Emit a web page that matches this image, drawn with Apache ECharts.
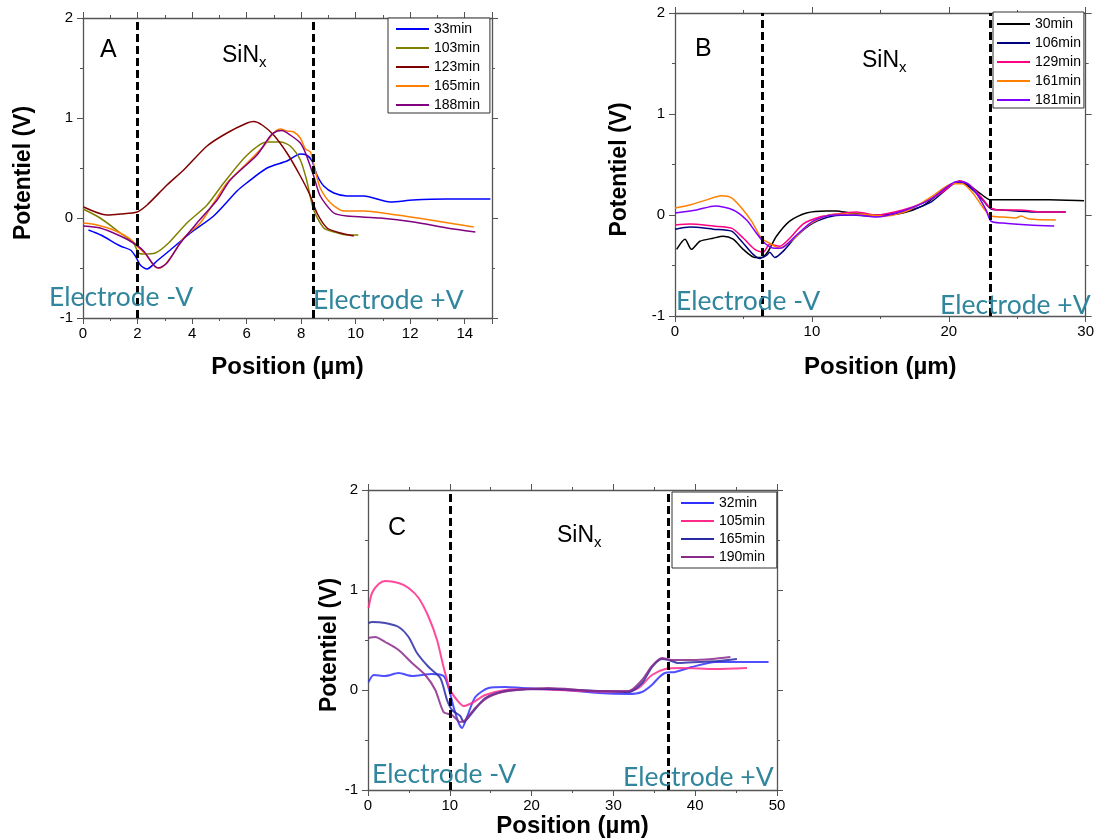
<!DOCTYPE html>
<html>
<head>
<meta charset="utf-8">
<script src="https://cdn.jsdelivr.net/npm/echarts@6/dist/echarts.min.js"></script>
<style>html,body{margin:0;padding:0;background:#fff}#c{width:1097px;height:840px}</style>
</head>
<body>
<div id="c"></div>
<script>
// ---------- DATA ----------
// Panel A
const namesA = ['33min', '103min', '123min', '165min', '188min'];
const a33 = [[0.2,-0.12],[0.65,-0.17],[1.37,-0.28],[1.74,-0.32],[1.92,-0.38],[2.1,-0.47],[2.35,-0.51],[2.71,-0.43],[3.2,-0.32],[3.94,-0.15],[4.79,0.02],[5.65,0.27],[6.0,0.35],[6.75,0.5],[7.48,0.57],[7.97,0.64],[8.2,0.63],[8.4,0.57],[8.58,0.43],[8.83,0.32],[9.2,0.25],[9.68,0.22],[10.3,0.22],[11.27,0.16],[12.1,0.18],[13.35,0.19],[14.94,0.19]];
const a103 = [[0,0.09],[0.63,0.0],[1.37,-0.15],[1.85,-0.25],[2.04,-0.35],[2.22,-0.36],[2.65,-0.35],[3.14,-0.25],[3.81,-0.05],[4.55,0.13],[5.16,0.35],[6.02,0.63],[6.75,0.76],[7.24,0.76],[7.6,0.72],[7.97,0.58],[8.2,0.38],[8.46,0.08],[8.83,-0.1],[9.2,-0.14],[9.68,-0.17],[10.1,-0.17]];
const a123 = [[0.02,0.11],[0.88,0.03],[1.37,0.04],[1.98,0.06],[2.35,0.13],[3.08,0.33],[3.69,0.48],[4.55,0.72],[5.28,0.85],[6.02,0.95],[6.26,0.965],[6.57,0.93],[6.99,0.83],[7.48,0.65],[7.97,0.42],[8.34,0.22],[8.58,0.05],[8.95,-0.1],[9.44,-0.15],[9.93,-0.18]];
const a165 = [[0.02,-0.05],[0.51,-0.07],[1.12,-0.12],[1.74,-0.21],[1.98,-0.28],[2.35,-0.38],[2.65,-0.49],[2.84,-0.5],[3.2,-0.4],[3.69,-0.2],[4.3,-0.05],[4.79,0.15],[5.28,0.35],[6.02,0.55],[6.63,0.72],[6.99,0.85],[7.24,0.89],[7.48,0.87],[7.73,0.86],[7.97,0.8],[8.16,0.69],[8.34,0.66],[8.52,0.47],[8.7,0.3],[9.08,0.15],[9.56,0.07],[10.3,0.07],[11.52,0.03],[12.74,-0.02],[14.33,-0.09]];
const a188 = [[0.02,-0.08],[0.63,-0.1],[1.37,-0.18],[1.85,-0.25],[2.22,-0.33],[2.59,-0.47],[2.77,-0.5],[3.08,-0.45],[3.57,-0.25],[4.18,-0.05],[4.92,0.18],[5.4,0.38],[6.38,0.63],[6.87,0.82],[7.12,0.87],[7.3,0.875],[7.6,0.83],[7.97,0.75],[8.16,0.65],[8.46,0.42],[8.7,0.22],[9.2,0.05],[9.68,0.02],[10.9,0.0],[12.13,-0.04],[13.35,-0.1],[14.39,-0.14]];
const electrodesA = [2, 8.45];

// Panel B
const namesB = ['30min', '106min', '129min', '161min', '181min'];
const b30 = [[0.12,-0.34],[0.73,-0.24],[1.2,-0.34],[1.82,-0.26],[2.79,-0.23],[3.52,-0.21],[4.25,-0.24],[4.98,-0.34],[5.83,-0.42],[6.32,-0.42],[6.8,-0.36],[7.41,-0.21],[8.38,-0.06],[9.6,0.02],[11.06,0.04],[11.8,0.04],[12.76,0.02],[14.7,0.0],[16.64,0.02],[18.1,0.09],[19.07,0.19],[20.04,0.29],[20.77,0.33],[21.5,0.29],[22.23,0.22],[22.84,0.16],[23.08,0.15],[25.15,0.15],[27.33,0.15],[29.88,0.14]];
const b106 = [[0,-0.14],[1.09,-0.12],[2.79,-0.14],[4.13,-0.16],[4.86,-0.26],[5.71,-0.39],[6.2,-0.43],[6.68,-0.4],[6.92,-0.37],[7.29,-0.42],[7.89,-0.36],[8.87,-0.21],[10.08,-0.08],[11.54,-0.01],[13.0,0.0],[14.2,-0.01],[16.64,0.03],[18.59,0.12],[19.8,0.25],[20.53,0.32],[21.0,0.32],[21.74,0.25],[22.47,0.15],[23.08,0.06],[23.93,0.05],[26.36,0.03],[28.55,0.03]];
const b129 = [[0,-0.1],[1.09,-0.09],[2.79,-0.11],[4.13,-0.13],[5.0,-0.23],[5.83,-0.34],[6.44,-0.37],[6.92,-0.29],[7.65,-0.31],[8.38,-0.23],[9.35,-0.09],[10.57,-0.02],[11.8,0.01],[13.24,0.03],[14.7,0.0],[16.64,0.05],[18.1,0.12],[19.56,0.23],[20.77,0.34],[21.5,0.3],[22.35,0.18],[22.96,0.08],[23.56,0.05],[25.15,0.05],[26.85,0.03],[28.55,0.03]];
const b161 = [[0,0.07],[1.09,0.1],[2.31,0.15],[3.4,0.19],[4.13,0.17],[4.86,0.07],[5.59,-0.06],[6.32,-0.23],[6.92,-0.28],[7.65,-0.33],[8.62,-0.24],[9.84,-0.09],[11.3,0.0],[13.0,0.01],[15.43,-0.01],[17.13,0.05],[18.83,0.19],[20.28,0.31],[21.0,0.31],[21.74,0.22],[22.47,0.08],[23.08,-0.01],[23.93,-0.02],[24.9,-0.03],[25.27,-0.01],[25.87,-0.04],[27.82,-0.05]];
const b181 = [[0,0.02],[1.58,0.05],[2.92,0.09],[4.25,0.05],[5.23,-0.05],[5.95,-0.18],[6.56,-0.28],[7.29,-0.33],[7.89,-0.32],[8.87,-0.2],[10.08,-0.06],[11.54,0.0],[13.24,0.0],[14.7,-0.02],[16.64,0.04],[18.59,0.15],[19.8,0.27],[20.53,0.33],[21.26,0.32],[21.99,0.22],[22.72,0.05],[23.08,-0.06],[23.93,-0.08],[25.87,-0.1],[27.7,-0.11]];
const electrodesB = [6.35, 23.05];

// Panel C
const namesC = ['32min', '105min', '165min ', '190min'];
const c32 = [[0.07,0.08],[0.7,0.15],[2.1,0.14],[3.74,0.17],[5.38,0.14],[7.82,0.16],[9.24,0.14],[9.85,0.02],[10.46,-0.17],[11.08,-0.33],[11.49,-0.38],[12.1,-0.27],[13.12,-0.07],[14.74,0.02],[16.79,0.03],[18.83,0.02],[24.1,0.0],[28.2,-0.03],[31.86,-0.04],[33.5,-0.02],[34.7,0.05],[35.5,0.12],[36.3,0.17],[37.57,0.18],[39.6,0.23],[42.46,0.28],[45.3,0.28],[48.97,0.28]];
const c105 = [[0.07,0.82],[0.49,0.97],[1.3,1.06],[2.1,1.09],[3.74,1.07],[4.96,1.02],[6.19,0.92],[7.41,0.73],[8.44,0.5],[9.24,0.23],[10.06,0.0],[10.88,-0.1],[11.69,-0.16],[12.71,-0.13],[14.34,-0.05],[16.79,0.0],[20.05,0.01],[26.16,-0.01],[31.45,-0.02],[33.08,0.02],[34.72,0.15],[36.34,0.21],[38.38,0.22],[42.46,0.21],[46.33,0.22]];
const c165 = [[0.07,0.67],[0.49,0.68],[2.1,0.67],[3.74,0.63],[4.96,0.53],[5.99,0.37],[7.41,0.23],[8.84,0.12],[9.66,-0.1],[10.27,-0.2],[11.28,-0.26],[11.69,-0.32],[12.71,-0.23],[14.34,-0.08],[16.79,-0.01],[22.08,0.01],[28.2,-0.01],[31.86,-0.02],[33.5,0.07],[34.72,0.23],[35.94,0.31],[36.75,0.3],[37.97,0.27],[40.42,0.28],[42.87,0.29],[45.1,0.31]];
const c190 = [[0.07,0.52],[0.89,0.53],[2.1,0.48],[3.74,0.4],[5.38,0.27],[7.0,0.15],[8.23,0.0],[9.24,-0.22],[10.27,-0.25],[11.28,-0.32],[11.9,-0.3],[13.12,-0.18],[14.74,-0.07],[17.19,-0.01],[22.08,0.02],[28.2,-0.01],[31.86,-0.01],[33.5,0.1],[34.72,0.24],[35.94,0.32],[37.16,0.3],[39.6,0.3],[42.05,0.31],[44.3,0.33]];
const electrodesC = [10.05, 36.7];

const yTicks = { min: -1, max: 2, interval: 1 };
const xTicksA = { min: 0, max: 15, interval: 2 };
const xTicksB = { min: 0, max: 30, interval: 10 };
const xTicksC = { min: 0, max: 50, interval: 10 };

// ---------- STYLE ----------
const colorsA = ['#0000ff', '#808000', '#800000', '#ff8000', '#800080'];
const colorsB = ['#000000', '#000080', '#ff0080', '#ff8000', '#8000ff'];
const colorsC = ['#3030ff', '#ff2a8a', '#2a2aa6', '#8a2a8a'];
const FONT = '"Liberation Sans", Arial, sans-serif';
const AX = '#555';
const TEAL = '#31859c';

const grids = [
  { left: 83, top: 18, width: 409, height: 300 },
  { left: 675, top: 13, width: 412, height: 303 },
  { left: 368, top: 490, width: 409, height: 300 }
];

function xAxes(gi, t, minorSplit, nameGap) {
  const base = {
    type: 'value', gridIndex: gi, min: t.min, max: t.max, interval: t.interval,
    axisLine: { show: true, onZero: false, lineStyle: { color: AX, width: 1.3 } },
    axisTick: { show: true, inside: false, length: 6, lineStyle: { color: AX } },
    minorTick: { show: true, splitNumber: minorSplit, length: 3, lineStyle: { color: AX } },
    splitLine: { show: false }
  };
  return [
    Object.assign({}, base, {
      position: 'bottom',
      axisLabel: { show: true, fontFamily: FONT, fontSize: 15, color: '#000', margin: 8, showMaxLabel: (t.max % t.interval === 0) },
      name: 'Position (µm)', nameLocation: 'middle', nameGap: nameGap,
      nameTextStyle: { fontFamily: FONT, fontSize: 24, fontWeight: 'bold', color: '#000' }
    }),
    Object.assign({}, base, { position: 'top', axisLabel: { show: false } })
  ];
}
function yAxes(gi, nameGap) {
  const base = {
    type: 'value', gridIndex: gi, min: yTicks.min, max: yTicks.max, interval: yTicks.interval,
    axisLine: { show: true, onZero: false, lineStyle: { color: AX, width: 1.3 } },
    axisTick: { show: true, inside: false, length: 6, lineStyle: { color: AX } },
    minorTick: { show: true, splitNumber: 2, length: 3, lineStyle: { color: AX } },
    splitLine: { show: false }
  };
  return [
    Object.assign({}, base, {
      position: 'left',
      axisLabel: { show: true, fontFamily: FONT, fontSize: 15, color: '#000', margin: 10 },
      name: 'Potentiel (V)', nameLocation: 'middle', nameGap: nameGap,
      nameTextStyle: { fontFamily: FONT, fontSize: 23, fontWeight: 'bold', color: '#000', padding: [0, 10, 0, 0] }
    }),
    Object.assign({}, base, { position: 'right', axisLabel: { show: false } })
  ];
}

function makeSeries(names, datas, colors, axisIdx, electrodes, width, opacity) {
  return names.map((n, i) => {
    const s = {
      type: 'line', name: n, data: datas[i], xAxisIndex: axisIdx, yAxisIndex: axisIdx,
      symbol: 'none', smooth: 0.25, animation: false,
      lineStyle: { color: colors[i], width: width, opacity: opacity },
      itemStyle: { color: colors[i] },
      z: 3
    };
    if (i === 0) {
      s.markLine = {
        silent: true, symbol: 'none', animation: false,
        label: { show: false },
        lineStyle: { color: '#000', type: [8, 4], width: 3 },
        data: electrodes.map(v => ({ xAxis: v }))
      };
    }
    return s;
  });
}

function legend(names, pos, padding, gap) {
  return Object.assign({
    data: names, orient: 'vertical', icon: 'rect',
    itemWidth: 33, itemHeight: 2, itemGap: gap,
    backgroundColor: '#fff', borderColor: '#333', borderWidth: 1,
    padding: padding,
    textStyle: { fontFamily: FONT, fontSize: 14, color: '#000', lineHeight: 13 },
    selectedMode: false
  }, pos);
}

function label(text, x, y, size, color, font) {
  return { type: 'text', x: x, y: y, silent: true, z: 10,
    style: { text: text, fill: color, font: size + 'px ' + (font || FONT), verticalAlign: 'middle' } };
}
function sinx(x, y) {
  return { type: 'text', x: x, y: y, silent: true, z: 10,
    style: { text: '{a|SiN}{b|x}', verticalAlign: 'middle', rich: {
      a: { fontFamily: FONT, fontSize: 23, fill: '#000', color: '#000' },
      b: { fontFamily: FONT, fontSize: 15, fill: '#000', color: '#000', padding: [14, 0, 0, 0] }
    } } };
}
const EFONT = 'Lato, "Open Sans", sans-serif';
const ES = 26.5;

const option = {
  animation: false,
  backgroundColor: '#fff',
  grid: grids.map(g => Object.assign({ containLabel: false, show: false }, g)),
  xAxis: [].concat(xAxes(0, xTicksA, 2, 37), xAxes(1, xTicksB, 2, 39), xAxes(2, xTicksC, 2, 24)),
  yAxis: [].concat(yAxes(0, 48), yAxes(1, 44), yAxes(2, 25)),
  legend: [
    legend(namesA, { left: 388, top: 18 }, [4, 10, 1, 8], 5),
    legend(namesB, { left: 993, top: 12 }, [5, 3, 1, 4], 5),
    legend(namesC, { left: 672, top: 492 }, [4, 8, 4, 9], 4)
  ],
  series: [].concat(
    makeSeries(namesA, [a33, a103, a123, a165, a188], colorsA, 0, electrodesA, 1.5, 1),
    makeSeries(namesB, [b30, b106, b129, b161, b181], colorsB, 2, electrodesB, 1.5, 1),
    makeSeries(namesC, [c32, c105, c165, c190], colorsC, 4, electrodesC, 2, 0.85)
  ),
  graphic: [
    label('A', 100, 50, 25, '#000'),
    sinx(222, 56),
    label('Electrode -V', 49, 297.5, ES, TEAL, EFONT),
    label('Electrode +V', 313, 300.5, ES, TEAL, EFONT),
    label('B', 695, 49, 25, '#000'),
    sinx(862, 61),
    label('Electrode -V', 676, 301, ES, TEAL, EFONT),
    label('Electrode +V', 940, 305.5, ES, TEAL, EFONT),
    label('C', 388, 528, 25, '#000'),
    sinx(557, 536),
    label('Electrode -V', 372, 774.5, ES, TEAL, EFONT),
    label('Electrode +V', 623, 777.5, ES, TEAL, EFONT)
  ]
};

const chart = echarts.init(document.getElementById('c'), null, { renderer: 'canvas' });
chart.setOption(option);
</script>
</body>
</html>
